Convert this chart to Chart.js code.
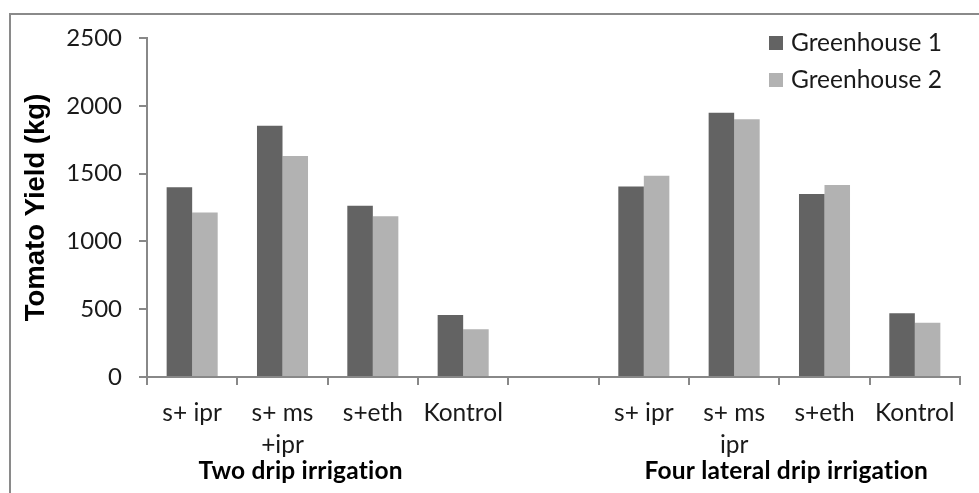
<!DOCTYPE html>
<html>
<head>
<meta charset="utf-8">
<script src="https://cdn.jsdelivr.net/npm/chart.js@4.4.0/dist/chart.umd.min.js"></script>
<style>
  html, body { margin: 0; padding: 0; background: #fff; overflow: hidden; }
  #wrap { position: relative; width: 979px; height: 493px; }
</style>
</head>
<body>
<div id="wrap"><canvas id="chart" width="979" height="493"></canvas></div>
<script>
var categories = ['s+ ipr', ['s+ ms', '+ipr'], 's+eth', 'Kontrol', '', 's+ ipr', ['s+ ms', 'ipr'], 's+eth', 'Kontrol'];
var greenhouse1 = [1400, 1852, 1262, 458, null, 1404, 1948, 1350, 470];
var greenhouse2 = [1214, 1630, 1185, 352, null, 1485, 1900, 1416, 400];
var yTicks = [0, 500, 1000, 1500, 2000, 2500];
var seriesNames = ['Greenhouse 1', 'Greenhouse 2'];
var groupLabels = ['Two drip irrigation', 'Four lateral drip irrigation'];
var groupFirst = [0, 5];
var groupLast = [3, 8];

(function () {
    'use strict';

    var tickFont = 'Lato';
    var axisGrey = '#888888';
    var textCol = '#1a1a1a';

    var frame = {
        id: 'frame',
        beforeDraw: function (chart) {
            var ctx = chart.ctx;
            ctx.save();
            ctx.strokeStyle = '#8a8a8a';
            ctx.lineWidth = 2;
            ctx.beginPath();
            ctx.moveTo(10, chart.height);
            ctx.lineTo(10, 14);
            ctx.lineTo(chart.width, 14);
            ctx.stroke();
            ctx.restore();
        }
    };

    var sideLegend = {
        id: 'sideLegend',
        afterDraw: function (chart) {
            var ctx = chart.ctx;
            var x = chart.chartArea.right - 191;
            ctx.save();
            ctx.font = '24.5px ' + tickFont;
            ctx.textBaseline = 'middle';
            chart.data.datasets.forEach(function (ds, i) {
                var y = 43 + i * 37;
                ctx.fillStyle = ds.backgroundColor;
                ctx.fillRect(x, y - 7, 14, 14);
                ctx.fillStyle = textCol;
                ctx.fillText(ds.label, x + 22, y);
            });
            ctx.restore();
        }
    };

    var groupText = {
        id: 'groupText',
        afterDraw: function (chart) {
            var ctx = chart.ctx;
            var xs = chart.scales.x;
            var shift = [-27, 7];
            ctx.save();
            ctx.font = 'bold 24.5px ' + tickFont;
            if ('letterSpacing' in ctx) ctx.letterSpacing = '0.2px'; // avoids the "ti" ligature
            ctx.textAlign = 'center';
            ctx.textBaseline = 'middle';
            ctx.fillStyle = '#000';
            groupLabels.forEach(function (t, i) {
                var cx = (xs.getPixelForValue(groupFirst[i]) + xs.getPixelForValue(groupLast[i])) / 2 + shift[i];
                ctx.fillText(t, cx, 471);
            });
            ctx.restore();
        }
    };

    new Chart(document.getElementById('chart'), {
        type: 'bar',
        data: {
            labels: categories,
            datasets: [
                { label: seriesNames[0], data: greenhouse1, backgroundColor: '#636363', categoryPercentage: 0.565, barPercentage: 1 },
                { label: seriesNames[1], data: greenhouse2, backgroundColor: '#b2b2b2', categoryPercentage: 0.565, barPercentage: 1 }
            ]
        },
        options: {
            responsive: false,
            animation: false,
            layout: { padding: { left: 16, top: 38, right: 19, bottom: 0 } },
            plugins: { legend: { display: false }, tooltip: { enabled: false } },
            scales: {
                x: {
                    offset: true,
                    grid: { offset: true, drawOnChartArea: false, tickLength: 8, color: axisGrey, lineWidth: 2 },
                    border: { color: axisGrey, width: 2 },
                    ticks: { color: textCol, font: { family: tickFont, size: 24.5, lineHeight: 1.31 }, padding: 12, maxRotation: 0, autoSkip: false },
                    afterFit: function (s) { s.height = 116; }
                },
                y: {
                    min: 0,
                    max: 2500,
                    afterBuildTicks: function (s) { s.ticks = yTicks.map(function (v) { return { value: v }; }); },
                    grid: { drawOnChartArea: false, tickLength: 8, color: axisGrey, lineWidth: 2 },
                    border: { color: axisGrey, width: 2 },
                    ticks: { color: textCol, font: { family: tickFont, size: 24 }, padding: 17, callback: function (v) { return String(v); } },
                    title: { display: true, text: 'Tomato Yield (kg)', color: '#000', font: { family: '"Liberation Sans", Arial, sans-serif', size: 27.5, weight: 'bold', lineHeight: 1.2 }, padding: { top: 4, bottom: 0 } },
                    afterFit: function (s) { s.width = 131; }
                }
            }
        },
        plugins: [frame, sideLegend, groupText]
    });
})();
</script>
</body>
</html>
